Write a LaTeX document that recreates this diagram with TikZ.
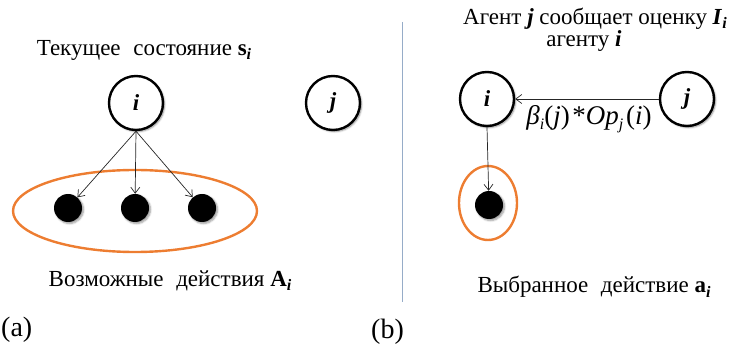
\documentclass[tikz,border=0pt]{standalone}
\usepackage{fontspec}
\setmainfont{Liberation Serif}
\newfontfamily\tnr{Liberation Serif}
\usetikzlibrary{arrows.meta,shadows.blur}
\definecolor{orng}{RGB}{237,125,49}
\definecolor{divc}{RGB}{150,172,200}
\newcommand{\mysub}[1]{\raisebox{-0.4ex}{\fontsize{16}{16}\selectfont #1}}
\newcommand{\wsp}{\hspace{0.55em}}
\begin{document}
\begin{tikzpicture}[x=1pt,y=-1pt,
  agent/.style={circle,draw=black,line width=2.4pt,fill=white,minimum size=54pt,inner sep=0pt,
    font=\tnr\fontsize{23}{23}\selectfont\bfseries\itshape,
    blur shadow={shadow xshift=1.5pt,shadow yshift=-1.5pt,shadow blur steps=6,shadow opacity=45}},
  act/.style={circle,fill=black,minimum size=28pt,inner sep=0pt,
    blur shadow={shadow xshift=1.5pt,shadow yshift=-1.5pt,shadow blur steps=5,shadow opacity=40}},
  lbl/.style={font=\tnr\fontsize{23}{26}\selectfont,inner sep=0pt},
  figcap/.style={font=\tnr\fontsize{28}{30}\selectfont,inner sep=0pt,anchor=west},
  arr/.style={-{Straight Barb[length=6pt,width=9pt]},line width=0.7pt,draw=black!85},
  oval/.style={draw=orng,line width=2.4pt}
]
\useasboundingbox (0,0) rectangle (733,344);

% ---------- (a) ----------
\node[lbl] (ta) at (144,50) {Текущее\wsp состояние \textbf{s}\mysub{\textbf{\textit{i}}}};
\node[agent] (ia) at (136,103) {i};
\node[agent] (ja) at (333,103) {j};
\draw[oval] (135,211) ellipse [x radius=122pt, y radius=41pt];
\node[act] (d1) at (68,208) {};
\node[act] (d2) at (135,208) {};
\node[act] (d3) at (202,208) {};
\draw[arr] (ia.south) -- (d1);
\draw[arr] (ia.south) -- (d2);
\draw[arr] (ia.south) -- (d3);
\node[lbl] (ba) at (170,281) {Возможные\wsp действия \textbf{A}\mysub{\textbf{\textit{i}}}};
\node[figcap] (capa) at (1,330) {(a)};

% ---------- divider ----------
\coordinate (dv1) at (402,22);
\coordinate (dv2) at (402,302);
\draw[divc,line width=1pt] (dv1) -- (dv2);

% ---------- (b) ----------
\node[lbl] (tb1) at (595,19) {Агент \textbf{\textit{j}} сообщает оценку \textbf{\textit{I}}\mysub{\textbf{\textit{i}}}};
\node[lbl] (tb2) at (584,41) {агенту \textbf{\textit{i}}};
\node[agent] (ib) at (487,99) {i};
\node[agent] (jb) at (687,99) {j};
\draw[arr] (jb) -- (ib);
\node[lbl,font=\tnr\fontsize{27}{28}\selectfont] (lb) at (589,119) {\textit{β}\mysub{\textit{i}}(\textit{j})\hspace{0.1em}*\textit{Op}\mysub{\textit{j}}\hspace{0.1em}(\textit{i})};
\draw[oval] (488,203) ellipse [x radius=29pt, y radius=37pt];
\node[act] (db) at (489,205) {};
\draw[arr] (ib.south) -- (db);
\node[lbl] (bb) at (594,287) {Выбранное\wsp действие \textbf{a}\mysub{\textbf{\textit{i}}}};
\node[figcap] (capb) at (371,332) {(b)};
\end{tikzpicture}
\end{document}
